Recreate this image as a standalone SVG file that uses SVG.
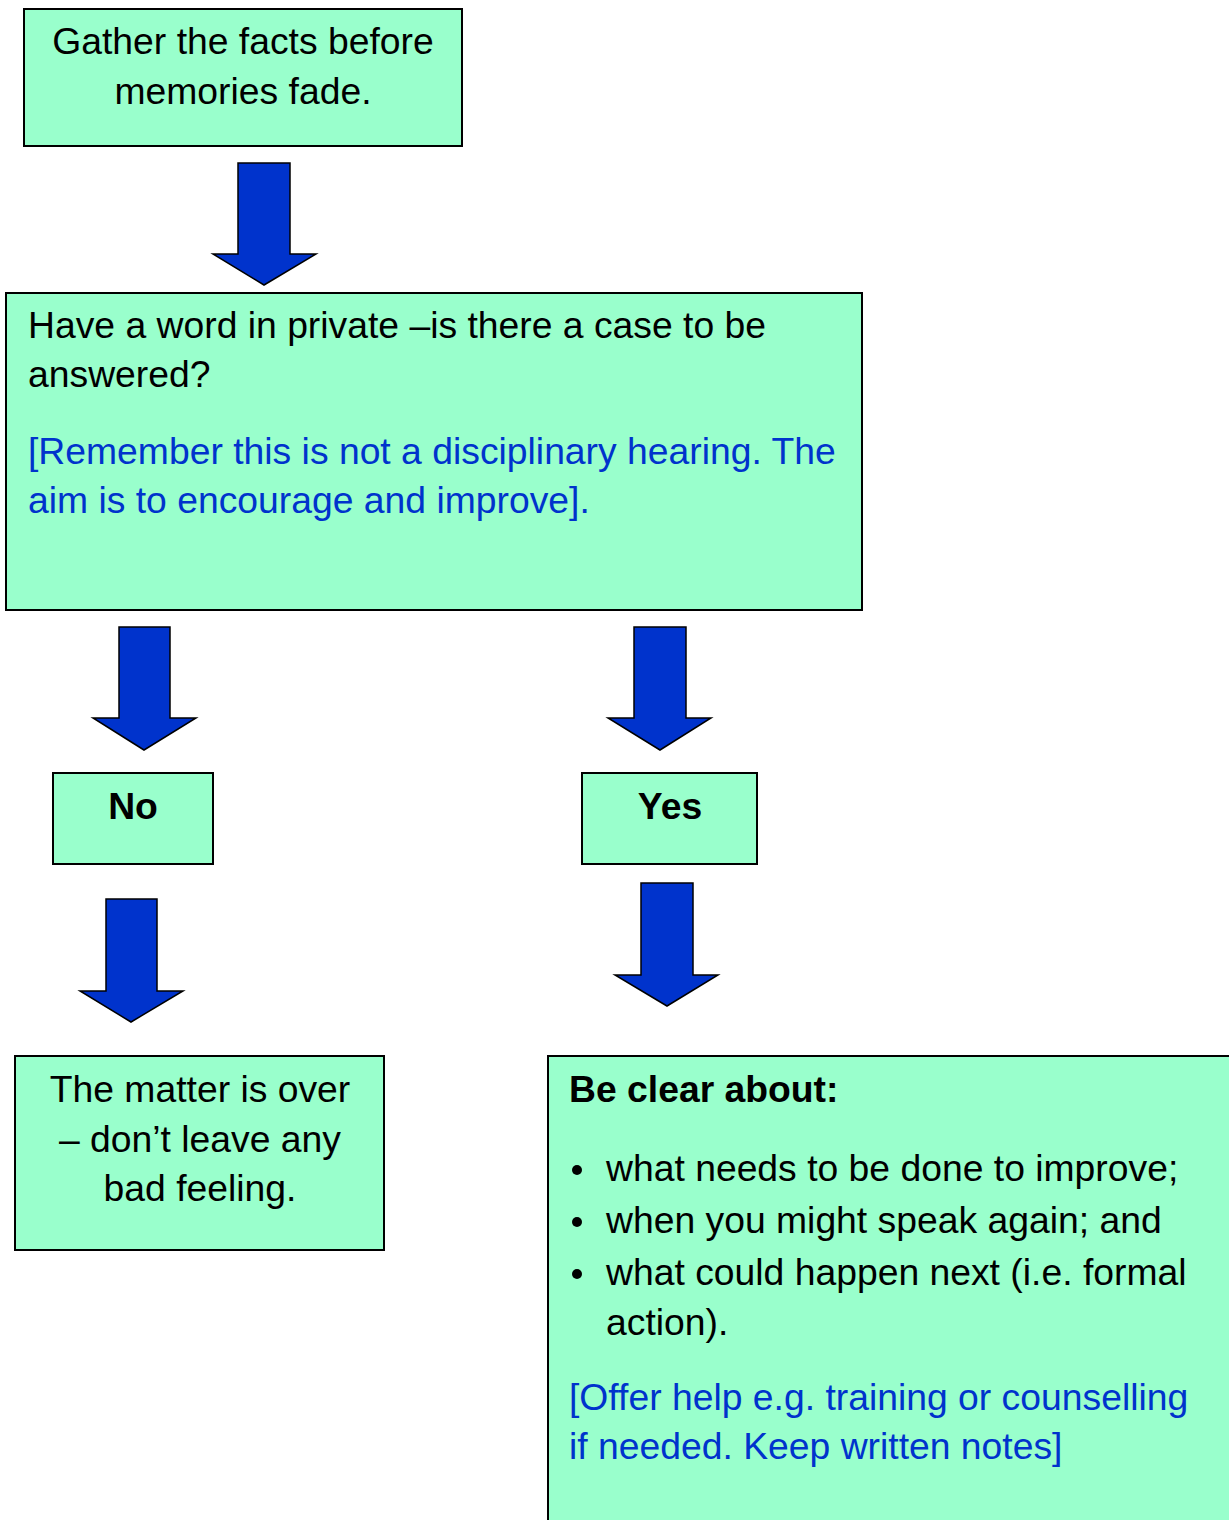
<svg xmlns="http://www.w3.org/2000/svg" width="1229" height="1520" viewBox="0 0 1229 1520">
<style>
.box{fill:#99FFCC;stroke:#000;stroke-width:2}
.arr{fill:#0033CC;stroke:#000;stroke-width:1.5;stroke-linejoin:miter}
text{font-family:"Liberation Sans",Arial,sans-serif;font-size:37.3px;fill:#000}
.c{text-anchor:middle}
.b{font-weight:bold}
.blue{fill:#0033CC}
</style>
<rect width="1229" height="1520" fill="#fff"/>
<g id="connectors">
<path class="arr" d="M238,163 H290 V254 H316 L264,285 L213,254 H238 Z"/>
<path class="arr" d="M119,627 H170 V718 H196 L144,750 L93,718 H119 Z"/>
<path class="arr" d="M634,627 H686 V718 H711 L660,750 L608,718 H634 Z"/>
<path class="arr" d="M106,899 H157 V991 H183 L131,1022 L80,991 H106 Z"/>
<path class="arr" d="M641,883 H693 V975 H718 L667,1006 L615,975 H641 Z"/>
</g>
<g id="gather">
<rect class="box" x="24" y="9" width="438" height="137"/>
<text class="c" x="243" y="54">Gather the facts before</text>
<text class="c" x="243" y="104">memories fade.</text>
</g>
<g id="word">
<rect class="box" x="6" y="293" width="856" height="317"/>
<text x="28" y="338">Have a word in private –is there a case to be</text>
<text x="28" y="387">answered?</text>
<text class="blue" x="28" y="464">[Remember this is not a disciplinary hearing. The</text>
<text class="blue" x="28" y="513">aim is to encourage and improve].</text>
</g>
<g id="no">
<rect class="box" x="53" y="773" width="160" height="91"/>
<text class="c b" x="133" y="819">No</text>
</g>
<g id="yes">
<rect class="box" x="582" y="773" width="175" height="91"/>
<text class="c b" x="670" y="819">Yes</text>
</g>
<g id="over">
<rect class="box" x="15" y="1056" width="369" height="194"/>
<text class="c" x="200" y="1102">The matter is over</text>
<text class="c" x="200" y="1152">– don’t leave any</text>
<text class="c" x="200" y="1201">bad feeling.</text>
</g>
<g id="clear">
<rect class="box" x="548" y="1056" width="700" height="500"/>
<text class="b" x="569" y="1102">Be clear about:</text>
<circle cx="577" cy="1170" r="5"/>
<circle cx="577" cy="1222" r="5"/>
<circle cx="577" cy="1274" r="5"/>
<text x="606" y="1181">what needs to be done to improve;</text>
<text x="606" y="1233">when you might speak again; and</text>
<text x="606" y="1285">what could happen next (i.e. formal</text>
<text x="606" y="1335">action).</text>
<text class="blue" x="569" y="1410">[Offer help e.g. training or counselling</text>
<text class="blue" x="569" y="1459">if needed. Keep written notes]</text>
</g>
</svg>
